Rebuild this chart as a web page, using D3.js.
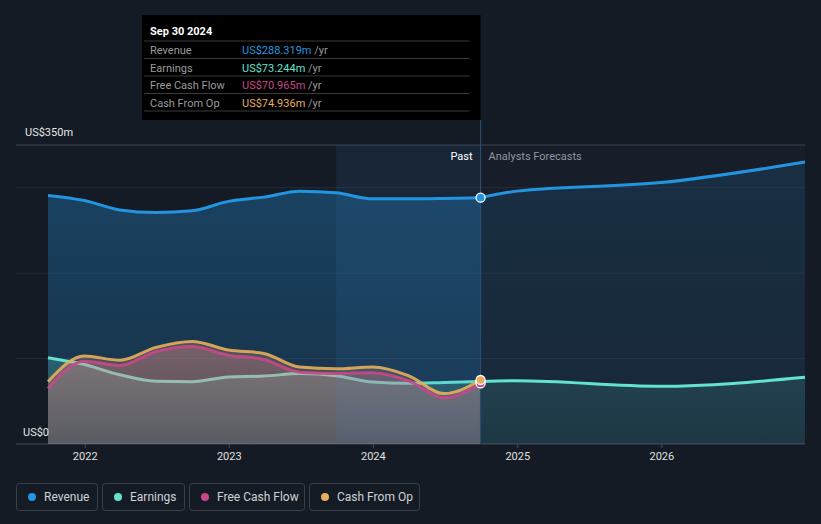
<!DOCTYPE html>
<html><head><meta charset="utf-8">
<script src="https://cdn.jsdelivr.net/npm/d3@7"></script>
<style>
html,body{margin:0;padding:0;background:#151b25;}
svg{display:block;font-family:Roboto,"Noto Sans",sans-serif;}
</style></head>
<body><svg id="c" width="821" height="524"></svg>
<script>
const pastDates = ["2021-09-30","2021-12-31","2022-03-31","2022-06-30","2022-09-30","2022-12-31","2023-03-31","2023-06-30","2023-09-30","2023-12-31","2024-03-31","2024-06-30","2024-09-30"];
const revenuePast  = [291,285,274,271,273,284,289,296,294,287,287,287.5,288.319];
const earningsPast = [101,93,81,73.5,73,78.5,79.5,82.5,80,72.5,71,72,73.244];
const fcfPast      = [65,97,92,108,114,104,99,84,82.5,83.5,74,54,70.965];
const cfoPast      = [73,103,98,113,120,110,106,90,88,90,80,59,74.936];
const fcDates = ["2024-09-30","2024-12-31","2025-12-31","2026-12-31"];
const revenueFc  = [288.319,296,306,330];
const earningsFc = [73.244,74,67.5,78];
const yTicks = [0,100,200,300,350];
const xTicks = ["2022","2023","2024","2025","2026"];
const legendItems = ["Revenue","Earnings","Free Cash Flow","Cash From Op"];
const colors = {"Revenue":"#2394df","Earnings":"#62e2cf","Free Cash Flow":"#c9478a","Cash From Op":"#e8ad5a"};
const tipRows = [["Revenue","US$288.319m"],["Earnings","US$73.244m"],["Free Cash Flow","US$70.965m"],["Cash From Op","US$74.936m"]];

const parse = d3.timeParse("%Y-%m-%d");
const svg = d3.select("#c");
const x = d3.scaleTime().domain([parse("2021-09-30"), parse("2026-12-31")]).range([48,805]);
const y = d3.scaleLinear().domain([0,350]).range([444,145]);
const X0 = 16, X1 = 805, Y0 = 444;
const cutX = x(parse("2024-09-30"));
const bandX = x(parse("2023-09-30"));

const defs = svg.append("defs");
function grad(id, color, o1, o2, y1, y2){
  const g = defs.append("linearGradient").attr("id",id).attr("gradientUnits","userSpaceOnUse")
    .attr("x1",0).attr("x2",0).attr("y1",y1).attr("y2",y2);
  g.append("stop").attr("offset",0).attr("stop-color",color).attr("stop-opacity",o1);
  g.append("stop").attr("offset",1).attr("stop-color",color).attr("stop-opacity",o2);
}
grad("gRev", colors.Revenue, 0.32, 0.18, 190, 444);
grad("gRevF", colors.Revenue, 0.14, 0.08, 160, 444);
grad("gEarn", colors.Earnings, 0.25, 0.12, 350, 444);
grad("gEarnF", colors.Earnings, 0.14, 0.08, 370, 444);
grad("gFcf", "#d06890", 0.32, 0.18, 340, 444);
grad("gCfo", "#e8b070", 0.25, 0.15, 335, 444);

// plot background (forecast slightly lighter)
svg.append("rect").attr("x",cutX).attr("y",145).attr("width",X1-cutX).attr("height",Y0-145).attr("fill","#171e2a");

// gridlines
svg.append("g").selectAll("line").data(yTicks).join("line")
  .attr("x1",X0).attr("x2",X1).attr("y1",d=>y(d)).attr("y2",d=>y(d))
  .attr("stroke",d=>d===350?"#3e434c":(d===0?"#454a52":"#262c36")).attr("stroke-width",1);

const past = pastDates.map((d,i)=>({t:parse(d),rev:revenuePast[i],earn:earningsPast[i],fcf:fcfPast[i],cfo:cfoPast[i]}));
const fc = fcDates.map((d,i)=>({t:parse(d),rev:revenueFc[i],earn:earningsFc[i]}));
const curve = d3.curveMonotoneX;
const area = k => d3.area().curve(curve).x(d=>x(d.t)).y0(Y0).y1(d=>y(d[k]));
const line = k => d3.line().curve(curve).x(d=>x(d.t)).y(d=>y(d[k]));

// forecast areas
svg.append("path").datum(fc).attr("d",area("rev")).attr("fill","url(#gRevF)");
svg.append("path").datum(fc).attr("d",area("earn")).attr("fill","url(#gEarnF)");
// past areas
svg.append("path").datum(past).attr("d",area("rev")).attr("fill","url(#gRev)");
svg.append("path").datum(past).attr("d",area("earn")).attr("fill","url(#gEarn)");
svg.append("path").datum(past).attr("d",line("earn")).attr("fill","none").attr("stroke",colors.Earnings).attr("stroke-width",3);
svg.append("path").datum(past).attr("d",area("fcf")).attr("fill","url(#gFcf)");
svg.append("path").datum(past).attr("d",area("cfo")).attr("fill","url(#gCfo)");

// highlight band
svg.append("rect").attr("x",bandX).attr("y",145).attr("width",cutX-bandX).attr("height",Y0-145)
  .attr("fill","#3a8ad8").attr("opacity",0.1);

// lines
svg.append("path").datum(past).attr("d",line("fcf")).attr("fill","none").attr("stroke",colors["Free Cash Flow"]).attr("stroke-width",3).attr("opacity",0.9);
svg.append("path").datum(past).attr("d",line("cfo")).attr("fill","none").attr("stroke",colors["Cash From Op"]).attr("stroke-width",3).attr("opacity",0.9);
svg.append("path").datum(past).attr("d",line("rev")).attr("fill","none").attr("stroke",colors.Revenue).attr("stroke-width",3);
svg.append("path").datum(fc).attr("d",line("rev")).attr("fill","none").attr("stroke",colors.Revenue).attr("stroke-width",3);
svg.append("path").datum(fc).attr("d",line("earn")).attr("fill","none").attr("stroke",colors.Earnings).attr("stroke-width",3);

// vertical cursor line
svg.append("line").attr("x1",cutX).attr("x2",cutX).attr("y1",120).attr("y2",Y0).attr("stroke","#2a4b6a").attr("stroke-width",1.2);

// markers
const last = past[past.length-1];
[["earn","Earnings"],["fcf","Free Cash Flow"],["cfo","Cash From Op"],["rev","Revenue"]].forEach(([k,n])=>{
  svg.append("circle").attr("cx",x(last.t)).attr("cy",y(last[k])).attr("r",4.5)
    .attr("fill",colors[n]).attr("stroke","#fff").attr("stroke-width",1.3);
});

// Past / Forecast labels
svg.append("text").attr("x",cutX-8).attr("y",160).attr("text-anchor","end").attr("fill","#ffffff").attr("font-size",11).text("Past");
svg.append("text").attr("x",cutX+8).attr("y",160).attr("fill","#9096a0").attr("font-size",11).text("Analysts Forecasts");

// y labels
svg.append("text").attr("x",25).attr("y",136).attr("fill","#e6e6e6").attr("font-size",11).text("US$350m");
svg.append("text").attr("x",23).attr("y",436).attr("fill","#e6e6e6").attr("font-size",11).text("US$0");

// x axis
const xa = svg.append("g").attr("transform",`translate(0,${Y0})`)
  .call(d3.axisBottom(x).tickValues(xTicks.map(s=>parse(s+"-01-01"))).tickFormat(d3.timeFormat("%Y")).tickSize(4).tickPadding(4));
xa.select(".domain").remove();
xa.selectAll("line").attr("stroke","#454a52");
xa.selectAll("text").attr("fill","#e0e0e0").attr("font-size",11).attr("font-family","Roboto,sans-serif");

// tooltip
const tip = svg.append("g");
tip.append("rect").attr("x",142).attr("y",15).attr("width",cutX-142).attr("height",105).attr("fill","#000");
tip.append("text").attr("x",150).attr("y",35).attr("fill","#fff").attr("font-size",11).attr("font-weight","bold").text("Sep 30 2024");
const rowY = [41,58.5,76,93.5,111];
rowY.forEach(ry=>tip.append("line").attr("x1",142+2).attr("x2",cutX-11).attr("y1",ry).attr("y2",ry).attr("stroke","#3a3a3a"));
tipRows.forEach((r,i)=>{
  const by = rowY[i]+13;
  tip.append("text").attr("x",150).attr("y",by).attr("fill","#9a9a9a").attr("font-size",11).text(r[0]);
  const t = tip.append("text").attr("x",242).attr("y",by).attr("font-size",11);
  t.append("tspan").attr("fill",colors[r[0]]).text(r[1]);
  t.append("tspan").attr("fill","#9a9a9a").text(" /yr");
});

// legend
const lg = svg.append("g");
const lx = [16,102,189,309], lw = [81,82,115,110];
legendItems.forEach((n,i)=>{
  const g = lg.append("g").attr("transform",`translate(${lx[i]},483)`);
  g.append("rect").attr("x",0.5).attr("y",0.5).attr("width",lw[i]).attr("height",27).attr("rx",3)
    .attr("fill","none").attr("stroke","#3a404a");
  g.append("circle").attr("cx",16).attr("cy",14).attr("r",4).attr("fill",colors[n]);
  g.append("text").attr("x",28).attr("y",18).attr("fill","#cfd2d6").attr("font-size",12).text(n);
});
</script></body></html>
